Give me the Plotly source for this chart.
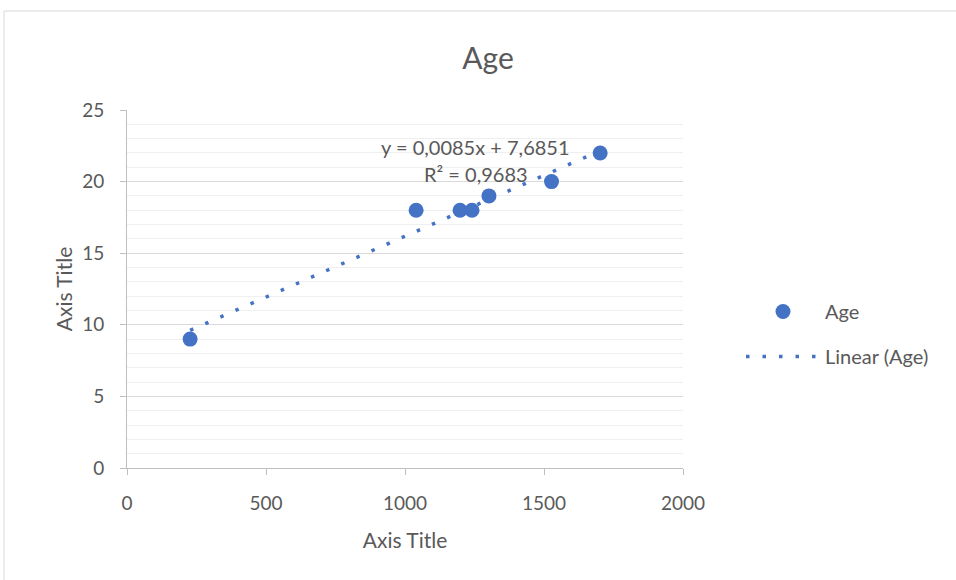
import plotly.graph_objects as go

# Data
x_vals = [227, 1040, 1198, 1241, 1302, 1527, 1702]
ages = [9, 18, 18, 18, 19, 20, 22]
slope = 0.0085
intercept = 7.6851
r_squared = 0.9683
x_ticks = [0, 500, 1000, 1500, 2000]
y_ticks = [0, 5, 10, 15, 20, 25]

BLUE = "#4472C4"
TXT = "#595959"
FONT = "Lato"

x_line = [min(x_vals), max(x_vals)]
y_line = [slope * v + intercept for v in x_line]

fig = go.Figure()
fig.add_trace(go.Scatter(
    x=x_vals, y=ages, mode="markers", name="Age",
    marker=dict(color=BLUE, size=15, line=dict(width=0)),
    legendgroup="a",
))
fig.add_trace(go.Scatter(
    x=x_line, y=y_line, mode="lines", name="Linear (Age)",
    line=dict(color=BLUE, width=3.5, dash="3.5px,13px"),
    legendgroup="b",
))

fig.add_annotation(x=1255, y=22.4, xref="x", yref="y", showarrow=False,
                   text="y = 0,0085x + 7,6851",
                   font=dict(family=FONT, size=20, color=TXT))
fig.add_annotation(x=1255, y=20.5, xref="x", yref="y", showarrow=False,
                   text="R² = 0,9683",
                   font=dict(family=FONT, size=20, color=TXT))

# chart border
fig.add_shape(type="rect", xref="paper", yref="paper",
              x0=(4 - 127) / 556, x1=(1000 - 127) / 556,
              y0=(468 - 620) / 358, y1=(468 - 11) / 358,
              line=dict(color="#D9D9D9", width=1), fillcolor="rgba(0,0,0,0)",
              layer="below")

fig.update_layout(
    width=956, height=580,
    margin=dict(l=127, r=273, t=110, b=112),
    paper_bgcolor="white", plot_bgcolor="white",
    font=dict(family=FONT, color=TXT, size=19),
    title=dict(text="Age", x=488 / 956, xanchor="center", y=1 - 58 / 580, yanchor="middle",
               font=dict(family=FONT, size=30, color=TXT)),
    showlegend=True,
    legend=dict(xref="container", yref="container", x=741 / 956, y=1 - 292 / 580,
                xanchor="left", yanchor="top", tracegroupgap=16,
                font=dict(family=FONT, size=20, color=TXT), itemwidth=74,
                bgcolor="rgba(0,0,0,0)"),
    xaxis=dict(range=[0, 2000], tickvals=x_ticks, showgrid=False, zeroline=False,
               showline=True, linecolor="#BFBFBF", linewidth=1,
               ticks="outside", ticklen=6, tickcolor="#BFBFBF",
               tickfont=dict(family=FONT, size=19, color=TXT), ticklabelstandoff=12,
               title=dict(text="Axis Title", font=dict(family=FONT, size=21, color=TXT), standoff=20)),
    yaxis=dict(range=[0, 25], tickvals=y_ticks, showgrid=True, gridcolor="#D9D9D9", gridwidth=1,
               zeroline=False, showline=True, linecolor="#BFBFBF", linewidth=1,
               ticks="outside", ticklen=6, tickcolor="#BFBFBF",
               tickfont=dict(family=FONT, size=19, color=TXT), ticklabelstandoff=12,
               minor=dict(dtick=1, showgrid=True, gridcolor="#EFEFEF", gridwidth=1),
               title=dict(text="Axis Title", font=dict(family=FONT, size=21, color=TXT), standoff=3)),
)

fig.write_html("out.html", config={"displayModeBar": False},
               post_script="document.body.style.margin='0';document.body.style.overflow='hidden';")
